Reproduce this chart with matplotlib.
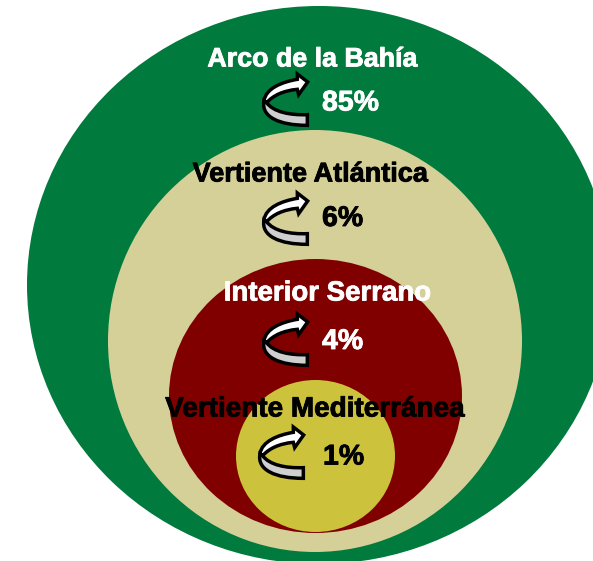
import matplotlib.pyplot as plt
import matplotlib.patheffects as pe
from matplotlib.patches import Ellipse, PathPatch
from matplotlib.path import Path

regiones = ['Arco de la Bahía', 'Vertiente Atlántica', 'Interior Serrano', 'Vertiente Mediterránea']
porcentajes = ['85%', '6%', '4%', '1%']
colores = ['#007a3d', '#d5cf98', '#800000', '#ccc23c']
color_texto = ['white', 'black', 'white', 'black']

# elipses en pixeles de la imagen: centro x, centro y, ancho, alto
cx = [319, 315, 315.5, 315.5]
cy = [285, 341, 396, 456]
ancho = [584, 414, 293, 159]
alto = [558, 422, 274, 152]

x_titulo = [312, 310.5, 327.5, 315.5]
y_titulo = [59.5, 174.5, 293.5, 409.5]
t_titulo = [19.3, 19.5, 19.9, 20.1]
x_pct = [322, 322, 322, 323]
y_pct = [103.5, 219, 342, 457.5]
x_flecha = [240, 240, 240, 236]
y_flecha = [60, 179, 300, 413]

# flecha curva, coordenadas de la lupa 3x
blanca = [(72, 122), (78, 85), (125, 66), (172, 58), (172, 42), (203, 66), (176, 104), (172, 88),
          (130, 92), (100, 106), (80, 128)]
gris = [(72, 122), (62, 172), (120, 196), (202, 196), (202, 164), (150, 166), (100, 156), (80, 128)]


def flecha(ax, x0, y0):
    # cuerpo gris primero, luego la parte blanca encima
    v = [(x0 + a / 3, y0 + b / 3) for a, b in gris]
    c = [Path.MOVETO, Path.CURVE4, Path.CURVE4, Path.CURVE4, Path.LINETO, Path.CURVE4, Path.CURVE4, Path.CURVE4]
    ax.add_patch(PathPatch(Path(v + v[:1], c + [Path.CLOSEPOLY]), fc='#cfcfcf', ec='black', lw=2.5,
                           joinstyle='miter', zorder=6))
    v = [(x0 + a / 3, y0 + b / 3) for a, b in blanca]
    c = [Path.MOVETO, Path.CURVE4, Path.CURVE4, Path.CURVE4, Path.LINETO, Path.LINETO, Path.LINETO, Path.LINETO,
         Path.CURVE4, Path.CURVE4, Path.CURVE4]
    ax.add_patch(PathPatch(Path(v + v[:1], c + [Path.CLOSEPOLY]), fc='white', ec='black', lw=2.5,
                           joinstyle='miter', zorder=7))


fig = plt.figure(figsize=(5.93, 5.61), dpi=100)
ax = fig.add_axes([0, 0, 1, 1])
ax.set_xlim(0, 593)
ax.set_ylim(561, 0)
ax.axis('off')

for i in range(4):
    ax.add_patch(Ellipse((cx[i], cy[i]), ancho[i], alto[i], fc=colores[i], ec='none', zorder=i))

for i in range(4):
    grueso = [pe.withStroke(linewidth=0.6, foreground=color_texto[i])]
    ax.text(x_titulo[i], y_titulo[i], regiones[i], color=color_texto[i], fontsize=t_titulo[i], fontweight='bold',
            family=['Liberation Sans', 'DejaVu Sans'], ha='center', va='center', zorder=5, path_effects=grueso)
    ax.text(x_pct[i], y_pct[i], porcentajes[i], color=color_texto[i], fontsize=20.5, fontweight='bold',
            family=['Liberation Sans', 'DejaVu Sans'], ha='left', va='center', zorder=5, path_effects=grueso)
    flecha(ax, x_flecha[i], y_flecha[i])

fig.savefig('out.png', dpi=100)
